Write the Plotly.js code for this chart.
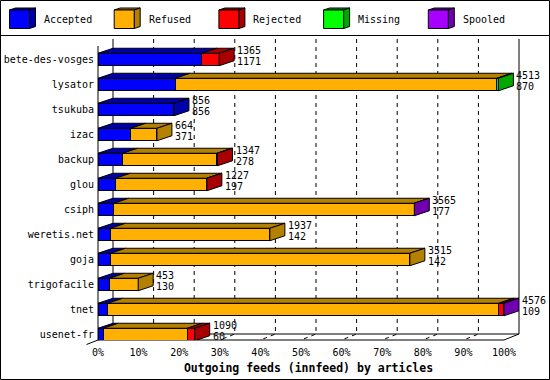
<!DOCTYPE html>
<html>
<head>
<meta charset="utf-8">
<script src="https://cdn.plot.ly/plotly-3.0.1.min.js"></script>
<style>html,body{margin:0;padding:0;background:#fff;}#chart{width:550px;height:380px;}</style>
</head>
<body>
<div id="chart"></div>
<script>
// ---- data ----
const categories = ["bete-des-vosges","lysator","tsukuba","izac","backup","glou","csiph","weretis.net","goja","trigofacile","tnet","usenet-fr"];
const offered  = [1365, 4513, 856, 664, 1347, 1227, 3565, 1937, 3515, 453, 4576, 1090];
const accepted = [1171,  870, 856, 371,  278,  197,  177,  142,  142, 130,  109,   60];
const refused  = [   0, 3626,   0, 293, 1063, 1027, 3385, 1795, 3373, 323, 4407,  947];
const rejected = [ 194,    0,   0,   0,    6,    3,    0,    0,    0,   0,   50,   83];
const missing  = [   0,   17,   0,   0,    0,    0,    0,    0,    0,   0,    0,    0];
const spooled  = [   0,    0,   0,   0,    0,    0,    3,    0,    0,   0,   10,    0];
const seriesNames = ["Accepted","Refused","Rejected","Missing","Spooled"];
const xTickVals = [0,10,20,30,40,50,60,70,80,90,100];
const xTickLabels = ["0%","10%","20%","30%","40%","50%","60%","70%","80%","90%","100%"];
const titleText = "Outgoing feeds (innfeed) by articles";

// ---- styles ----
const frontColors = ["#0000ff","#ffb000","#ff0000","#00ff00","#a800ff"];
const darkColors  = ["#0000a8","#b48000","#a80000","#00a800","#7000b0"];
const FONT = "DejaVu Sans Mono, monospace";

// ---- geometry ----
const ML = 98, MR = 31, MT = 39, MB = 40, W = 550, H = 380;
const PW = W - ML - MR, PH = H - MT - MB;          // 421 x 301
const PXU = 4.06;                                   // px per percent
const XMAX = PW / PXU;
const CAT = 25;                                     // px per category
const YTOP = -0.82, YBOT = YTOP + PH / CAT;
const DX = 15 / PXU, DYB = 5 / CAT, DYW = 6 / CAT;
const HALF = 0.25;

const seriesVals = [accepted, refused, rejected, missing, spooled];
const maxOff = Math.max(...offered);
const idx = categories.map((_, i) => i);
const pct = seriesVals.map(a => a.map(v => v / maxOff * 100));

const traces = [];
// front faces
seriesVals.forEach((arr, k) => {
  traces.push({
    type: 'bar', orientation: 'h', name: seriesNames[k],
    y: idx, x: pct[k].map(v => v > 0 ? v : null),
    width: 0.5,
    marker: {color: frontColors[k], line: {color: '#000', width: 1}},
    hoverinfo: 'skip', showlegend: false
  });
});
// top faces and side faces
const tops = seriesVals.map(() => ({x: [], y: []}));
const sides = seriesVals.map(() => ({x: [], y: []}));
idx.forEach(i => {
  let cum = 0, last = -1;
  seriesVals.forEach((arr, k) => {
    const v = pct[k][i];
    if (v > 0) {
      const x0 = cum, x1 = cum + v, yt = i - HALF;
      tops[k].x.push(x0, x1, x1 + DX, x0 + DX, x0, null);
      tops[k].y.push(yt, yt, yt - DYB, yt - DYB, yt, null);
      cum = x1; last = k;
    }
  });
  if (last >= 0) {
    const yt = i - HALF, yb = i + HALF;
    sides[last].x.push(cum, cum + DX, cum + DX, cum, cum, null);
    sides[last].y.push(yt, yt - DYB, yb - DYB, yb, yt, null);
  }
});
[tops, sides].forEach(group => group.forEach((g, k) => {
  if (!g.x.length) return;
  traces.push({
    type: 'scatter', mode: 'lines', x: g.x, y: g.y, fill: 'toself',
    fillcolor: darkColors[k], line: {color: '#000', width: 1},
    hoverinfo: 'skip', showlegend: false, connectgaps: false
  });
}));

// ---- helpers to paper coords ----
const dX = v => v / XMAX;
const dY = v => (YBOT - v) / (YBOT - YTOP);
const pX = px => (px - ML) / PW;
const pY = py => (H - MB - py) / PH;
const line = (x0, y0, x1, y1, extra) => Object.assign({type: 'line', xref: 'paper', yref: 'paper', x0, y0, x1, y1, line: {color: '#000', width: 1}, layer: 'below'}, extra || {});
const pathStr = (pts, close) => 'M' + pts.map(p => p[0] + ',' + p[1]).join(' L') + (close ? ' Z' : '');
const pathP = (pts, extra) => Object.assign({type: 'path', xref: 'paper', yref: 'paper', path: pathStr(pts, false), line: {color: '#000', width: 1}, layer: 'below'}, extra || {});

const shapes = [];
const yBackBot = YBOT - DYW;
// dashed grid on back wall + floor
xTickVals.slice(1, -1).forEach(t => {
  shapes.push(pathP([[dX(t + DX), dY(YTOP)], [dX(t + DX), dY(yBackBot)], [dX(t), dY(YBOT)]], {line: {color: '#000', width: 1, dash: '4px,4px'}}));
});
// wall edges
shapes.push(line(dX(DX), dY(YTOP), dX(DX), dY(yBackBot)));
shapes.push(line(dX(100 + DX), dY(YTOP), dX(100 + DX), dY(yBackBot)));
shapes.push(line(dX(DX), dY(yBackBot), dX(100 + DX), dY(yBackBot)));
shapes.push(line(dX(DX), dY(yBackBot), dX(0), dY(YBOT)));
shapes.push(pathP([[dX(0), dY(YBOT)], [dX(100), dY(YBOT)], [dX(100 + DX), dY(yBackBot)]]));
shapes.push(line(dX(0), pY(46), dX(0), dY(YBOT)));
shapes.push(line(pX(86.5), pY(344.5), dX(0), dY(YBOT)));
// border and legend separator
shapes.push({type: 'rect', xref: 'paper', yref: 'paper', x0: pX(0.5), x1: pX(549.5), y0: pY(0.5), y1: pY(379.5), line: {color: '#000', width: 1}, layer: 'above'});
shapes.push(line(pX(0), pY(35.5), pX(550), pY(35.5), {layer: 'above'}));

const annotations = [];
// legend cubes
seriesNames.forEach((n, k) => {
  const x0 = 9.5 + k * 104.7, yt = 10, yb = 28.5, dd = 6, du = 2;
  shapes.push({type: 'path', xref: 'paper', yref: 'paper', layer: 'above', fillcolor: darkColors[k], line: {color: '#000', width: 1},
    path: pathStr([[pX(x0), pY(yt)], [pX(x0 + dd), pY(yt - du)], [pX(x0 + 20 + dd), pY(yt - du)], [pX(x0 + 20), pY(yt)]], true)});
  shapes.push({type: 'path', xref: 'paper', yref: 'paper', layer: 'above', fillcolor: darkColors[k], line: {color: '#000', width: 1},
    path: pathStr([[pX(x0 + 20), pY(yt)], [pX(x0 + 20 + dd), pY(yt - du)], [pX(x0 + 20 + dd), pY(yb - du)], [pX(x0 + 20), pY(yb)]], true)});
  shapes.push({type: 'rect', xref: 'paper', yref: 'paper', layer: 'above', fillcolor: frontColors[k], line: {color: '#000', width: 1},
    x0: pX(x0), x1: pX(x0 + 20), y0: pY(yb), y1: pY(yt)});
  annotations.push({xref: 'paper', yref: 'paper', x: pX(x0 + 32.5), y: pY(19.7), xanchor: 'left', yanchor: 'middle', showarrow: false,
    text: n, font: {family: FONT, size: 10, color: '#000'}});
});
// value labels
idx.forEach(i => {
  const tot = offered[i] / maxOff * 100;
  annotations.push({x: tot, y: i, xref: 'x', yref: 'y', xanchor: 'left', yanchor: 'middle', xshift: 16, yshift: 9.5, showarrow: false,
    text: String(offered[i]), font: {family: FONT, size: 10, color: '#000'}});
  annotations.push({x: tot, y: i, xref: 'x', yref: 'y', xanchor: 'left', yanchor: 'middle', xshift: 16, yshift: -1.5, showarrow: false,
    text: String(accepted[i]), font: {family: FONT, size: 10, color: '#000'}});
});

const layout = {
  width: W, height: H,
  margin: {l: ML, r: MR, t: MT, b: MB, pad: 0},
  paper_bgcolor: '#fff', plot_bgcolor: 'rgba(0,0,0,0)',
  barmode: 'stack', showlegend: false,
  font: {family: FONT, size: 10, color: '#000'},
  xaxis: {range: [0, XMAX], autorange: false, tickvals: xTickVals, ticktext: xTickLabels, ticks: '', showgrid: false, zeroline: false, showline: false,
    ticklabelstandoff: 5,
    tickfont: {family: FONT, size: 10, color: '#000'},
    title: {text: titleText, font: {family: FONT, size: 11.5, color: '#000', weight: 'bold'}, standoff: 6}},
  yaxis: {range: [YBOT, YTOP], autorange: false, tickvals: idx, ticktext: categories, ticks: '', showgrid: false, zeroline: false, showline: false,
    ticklabelstandoff: 3,
    tickfont: {family: FONT, size: 10, color: '#000'}},
  shapes, annotations
};
Plotly.newPlot('chart', traces, layout, {displayModeBar: false, staticPlot: true});
</script>
</body>
</html>
